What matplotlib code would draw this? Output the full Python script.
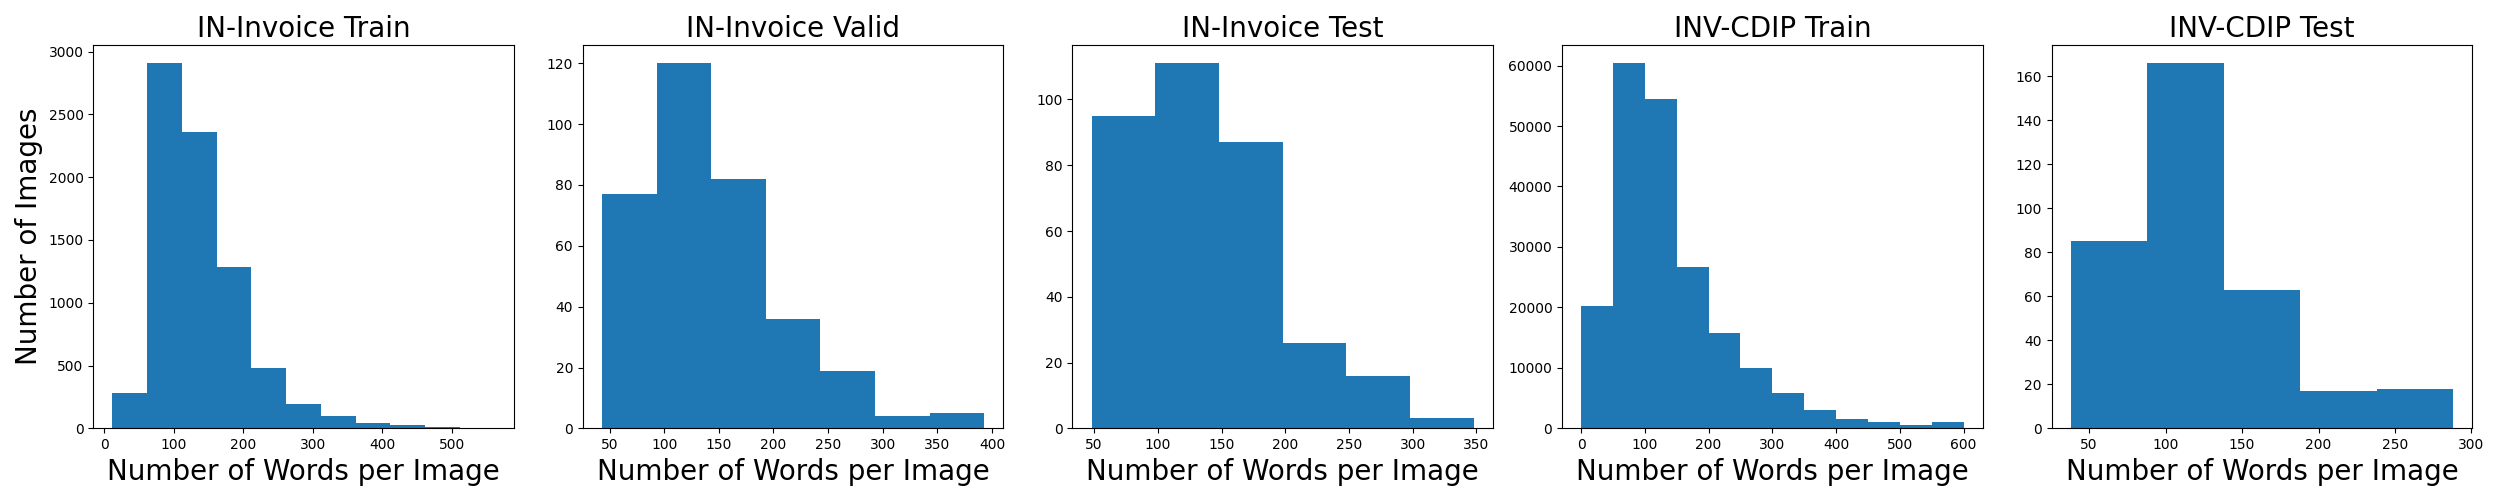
"""
Histograms of words per image for the IN-Invoice and INV-CDIP splits.
"""
import numpy as np
import matplotlib
matplotlib.use("Agg")
import matplotlib.pyplot as plt

# ── Data (bin edges + counts) ─────────────────────────────────────────────────
titles = ["IN-Invoice Train", "IN-Invoice Valid", "IN-Invoice Test",
          "INV-CDIP Train", "INV-CDIP Test"]

in_train_edges = [12, 62, 112, 162, 212, 262, 312, 362, 412, 462, 512, 562]
in_train_counts = [279, 2907, 2362, 1287, 481, 194, 98, 43, 24, 11, 1]

in_valid_edges = [43, 93, 143, 193, 243, 293, 343, 393]
in_valid_counts = [77, 120, 82, 36, 19, 4, 5]

in_test_edges = [48, 98, 148, 198, 248, 298, 348]
in_test_counts = [95, 111, 87, 26, 16, 3]

cdip_train_edges = [0, 50, 100, 150, 200, 250, 300, 350, 400, 450, 500, 550, 600]
cdip_train_counts = [20250, 60380, 54420, 26740, 15800, 10000, 5850, 3040,
                     1550, 1050, 550, 1050]

cdip_test_edges = [38, 88, 138, 188, 238, 288]
cdip_test_counts = [85, 166, 63, 17, 18]

all_edges = [in_train_edges, in_valid_edges, in_test_edges,
             cdip_train_edges, cdip_test_edges]
all_counts = [in_train_counts, in_valid_counts, in_test_counts,
              cdip_train_counts, cdip_test_counts]

BAR_COLOR = "#1f77b4"

# ── Figure ────────────────────────────────────────────────────────────────────
fig, axes = plt.subplots(1, 5, figsize=(25, 5), dpi=100)
fig.subplots_adjust(left=0.0373, right=0.9889, bottom=0.1433, top=0.91,
                    wspace=0.164)

for ax, title, edges, counts in zip(axes, titles, all_edges, all_counts):
    edges = np.array(edges, dtype=float)
    centers = (edges[:-1] + edges[1:]) / 2
    ax.hist(centers, bins=edges, weights=counts, color=BAR_COLOR)
    ax.set_title(title, fontsize=20)
    ax.set_xlabel("Number of Words per Image", fontsize=20)
    ax.tick_params(labelsize=10)

axes[0].set_ylabel("Number of Images", fontsize=20)

plt.savefig("out.png", dpi=100)
plt.close()
print("Saved: out.png")
